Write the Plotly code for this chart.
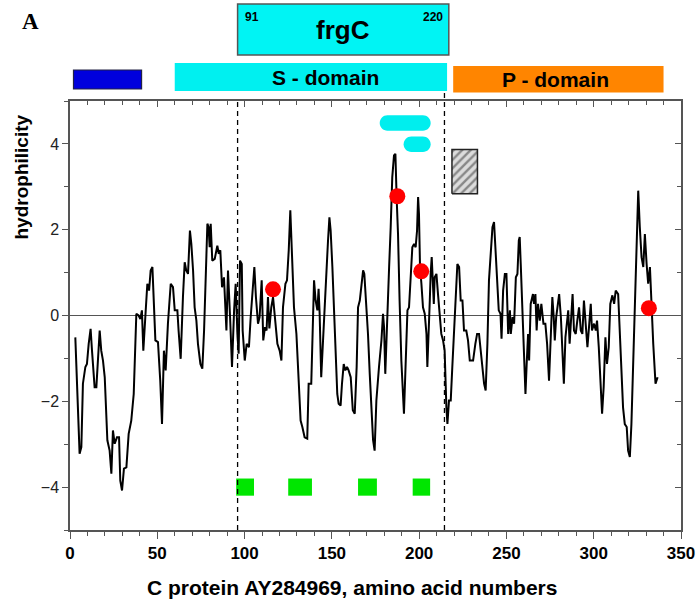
import plotly.graph_objects as go

# ---------------- data ----------------
aa = [3.05, 5.5, 6.5, 7.4, 8.8, 9.7, 10.7, 11.8, 12.6, 14.1, 15.1, 16.0, 17.0, 17.9, 18.9, 19.9,
      21.4, 22.7, 23.7, 24.6, 25.6, 26.9, 28.1, 28.8, 29.8, 30.9, 32.3, 33.6, 35.1, 36.5, 37.6,
      38.0, 39.3, 40.3, 41.2, 42.0, 43.2, 43.7, 44.3, 45.3, 46.2, 47.2, 47.7, 48.9, 50.4, 51.7,
      52.7, 53.8, 54.8, 56.1, 57.7,
      59.0, 60.0, 61.5, 62.2, 63.4, 64.7, 65.7, 66.6, 67.6, 68.7, 69.5, 70.5, 71.4, 72.4, 73.3,
      74.7, 75.8, 76.8, 77.7, 78.7, 79.4, 80.0, 80.6, 81.5, 82.9, 84.4, 85.2, 86.1, 87.1, 88.2,
      89.6, 90.5, 91.7, 92.8, 94.0, 94.9, 95.9, 96.6, 97.4, 98.4, 98.9, 100.1, 101.2, 102.5,
      103.5, 104.4, 105.6, 106.5, 107.7, 108.6, 109.8, 110.7, 111.7, 112.6,
      113.4, 114.2, 115.3, 116.3, 117.2, 118.8, 120.1, 121.1, 122.0, 123.4, 124.3, 125.3, 126.2,
      126.8, 128.3, 129.7, 131.0, 132.1, 133.1, 134.4, 135.9, 136.7, 138.2, 138.8, 139.8, 140.7,
      141.7, 142.4, 143.0, 143.9, 144.9, 145.9, 146.8, 147.8, 148.6, 149.3, 150.3, 151.2, 152.2,
      153.1, 153.9, 155.0, 155.8, 156.8, 157.7, 158.7, 159.6, 160.8, 162.0, 163.1, 164.2, 165.0,
      166.0, 166.9, 167.9, 168.6, 169.6, 170.7, 171.7, 172.6,
      173.6, 174.5, 175.5, 177.0, 178.4, 179.3, 179.9, 180.6, 181.8, 182.8, 183.7, 184.6, 185.6,
      186.4, 187.1, 187.9, 188.8, 189.8, 191.3, 192.3, 193.3, 194.2, 195.2, 196.1, 197.1, 198.0,
      198.8, 199.4, 199.9, 200.5, 201.3, 202.2, 203.2, 204.2, 204.7, 205.5, 206.1, 206.6, 207.2,
      207.8, 208.4, 208.9, 209.9, 210.8, 211.8, 212.7, 213.7, 214.6, 215.6, 216.2, 217.1, 218.1,
      219.0, 220.0, 220.9, 221.9, 222.9, 223.8, 224.8, 225.7, 227.0, 228.0, 229.0, 230.9,
      232.2, 233.2, 234.3, 235.6, 237.2, 238.1, 239.1, 240.0, 241.0, 242.0, 242.9, 243.9, 244.8,
      245.6, 246.6, 247.2, 248.1, 249.1, 250.0, 251.0, 252.0, 252.5, 253.5, 254.4, 255.4, 256.3,
      257.1, 257.6, 258.2, 259.0, 259.9, 260.9, 261.6, 262.4, 263.0, 263.9, 265.2, 265.8, 266.6,
      267.3, 268.1, 269.1, 270.0, 271.2, 272.3, 273.3, 274.4, 275.4, 276.3, 277.1, 277.7, 278.5,
      279.2, 280.2, 281.2, 282.1, 282.9, 283.8, 284.6, 285.4,
      286.2, 287.2, 287.9, 288.7, 289.7, 290.6, 291.6, 292.6, 293.5, 294.4, 295.4, 296.4, 297.3,
      298.3, 299.0, 300.2, 301.2, 301.9, 302.9, 303.8, 304.8, 305.7, 306.7, 307.6, 308.6, 309.5,
      310.7, 311.7, 312.6, 314.0, 314.9, 315.9, 316.8, 317.8, 318.9, 319.7, 320.7, 321.6, 322.6,
      323.5, 324.5, 325.5, 326.4, 327.4, 328.4, 329.3, 330.3, 331.2, 332.2, 333.1, 334.1, 335.4,
      336.6]
hydro = [-0.51, -3.22, -3.07, -1.59, -1.2, -1.13, -0.66, -0.31, -0.82, -1.67, -1.67, -0.97, -0.35,
         -0.82, -1.05, -1.44, -2.91, -3.15, -3.69, -2.68, -2.99, -2.84, -2.84, -3.85, -4.08, -3.57,
         -3.54, -2.76, -2.45, -1.83, -0.19, 0.04, 0.0, -0.08, 0.12, -0.82, 0.0, 0.35, 0.74, 0.58,
         1.05, 1.13, 0.5, -0.58, -0.62, -1.52, -2.53, -0.82, -1.28, -0.19, 0.74,
         0.66, 0.12, 0.12, -0.35, -1.01, 0.43, 1.24, 1.05, 0.97, 1.98, 1.67, 1.05, 0.19, -0.12,
         -0.66, -1.13, -1.24, -0.35, 0.89, 2.14, 2.06, 1.59, 2.14, 1.28, 1.32, 1.63, 1.44, 1.52,
         0.66, 0.89, -0.35, 1.05, -0.04, -1.2, 0.12, 0.74, -0.43, -0.89, 1.28, 1.2, -0.35, -1.05,
         -0.66, -0.74, -0.04, 0.58, 1.13, 0.43, -0.19, -0.04, 0.82, -0.58, -0.27, -0.35,
         0.43, -0.3, 0.19, 0.43, -0.04, -0.66, -0.82, -1.05, 0.19, 0.74, 0.82, 1.52, 2.45, 1.75,
         0.19, -0.43, -1.44, -2.45, -2.6, -2.84, -2.87, -1.59, -1.59, -0.43, 0.82, 0.35, 0.12,
         0.62, 0.04, -1.44, -0.58, 0.12, 1.13, 1.75, 2.29, 1.98, 1.13, 0.04, -0.89, -1.83, -2.06,
         -2.1, -1.59, -1.13, -1.28, -1.2, -1.28, -1.44, -2.21, -2.29, -1.2, 0.19, 0.35, 0.74,
         1.05, 0.97, 0.35, -0.43, -1.36, -1.98,
         -2.9, -3.15, -1.98, -1.2, -0.58, 0.04, -0.27, -1.36, 0.19, 1.13, 2.06, 3.22, 3.73, 3.77,
         2.76, 1.9, 0.35, -1.05, -2.29, -1.13, 0.12, 0.19, 0.82, 1.59, 1.67, 1.59, 1.98, 2.76,
         2.37, 1.13, 0.74, 0.19, 0.04, -0.43, -1.2, 0.04, 0.35, 0.97, 1.36, 0.82, 0.27, 0.89,
         0.97, 0.5, 0.04, -0.43, -0.58, -0.82, -2.14, -2.53, -1.98, -1.98, -1.2, -0.43, 0.5, 1.2,
         1.13, 0.35, 0.35, -0.35, -0.35, -0.58, -1.05, -1.05,
         -0.66, -0.43, -0.43, -0.97, -1.59, -1.75, -0.66, 0.82, 1.36, 2.06, 2.18, 1.44, 0.82,
         0.12, 0.04, -0.54, 0.58, 0.97, 0.97, -0.43, 0.12, -0.43, -0.04, -0.19, 0.89, 0.97, 1.75,
         1.83, 1.2, 0.35, -0.51, -1.83, -1.13, -0.43, -1.05, 0.27, 0.5, 0.27, 0.5, -0.35, 0.27,
         -0.12, 0.27, -0.19, -0.19, -0.66, -1.52, -0.66, 0.43, -0.04, -0.58, -0.04, 0.19, 0.5,
         -0.04, -1.13, -1.59, -0.51, -0.19, 0.12,
         -0.66, -0.04, 0.5, -0.35, -0.43, -0.12, 0.19, -0.35, -0.43, 0.35, -0.12, -0.74, -0.27,
         0.27, -0.35, -0.19, -0.35, -0.12, -0.74, -1.59, -2.29, -1.67, -0.51, -1.13, -0.74, 0.27,
         0.47, 0.27, 0.58, 0.5, -0.35, -1.28, -2.14, -2.53, -2.6, -3.15, -3.30, -2.53, -1.13,
         0.27, 1.28, 2.91, 2.06, 1.36, 1.13, 1.9, 1.2, 0.74, 1.13, 0.12, -0.66, -1.59, -1.44]

dot_x = [116.3, 187.5, 201.2, 331.6]
dot_y = [0.61, 2.78, 1.03, 0.17]

green_starts = [95.2, 125.0, 165.0, 196.3]
green_ends = [105.4, 138.6, 175.8, 206.3]
green_level = -4.0

cyan_starts = [177.4, 191.1]
cyan_ends = [206.6, 206.6]
cyan_levels = [4.485, 3.99]

hatch_x = [218.8, 233.4]
hatch_y = [2.84, 3.87]

boundary_lines = [96.0, 214.5]

frgC_range = [96.0, 217.0]
blue_range = [2.0, 41.0]
s_domain = [60.0, 216.0]
p_domain = [219.5, 340.0]

x_ticks = [0, 50, 100, 150, 200, 250, 300, 350]
y_ticks = [-4, -2, 0, 2, 4]
X_RANGE = [0, 350]
Y_RANGE = [-5, 5]

# ---------------- geometry helpers ----------------
W, H = 699, 604
ML, MR, MT, MB = 70, 18, 101, 74
PW = W - ML - MR
PH = H - MT - MB


def xp(v):
    return (v - X_RANGE[0]) / (X_RANGE[1] - X_RANGE[0])


def xpx(px):
    return (px - ML) / PW


def ypx(py):
    # pixel row -> paper y
    return (H - MB - py) / PH


def stadium(x0, x1, yc, h):
    px_per_x = PW / (X_RANGE[1] - X_RANGE[0])
    px_per_y = PH / (Y_RANGE[1] - Y_RANGE[0])
    rx = h * px_per_y / px_per_x
    k = 0.5523
    y0, y1 = yc - h, yc + h
    return (f"M {x0+rx},{y0} L {x1-rx},{y0} "
            f"C {x1-rx+k*rx},{y0} {x1},{yc-k*h} {x1},{yc} "
            f"C {x1},{yc+k*h} {x1-rx+k*rx},{y1} {x1-rx},{y1} "
            f"L {x0+rx},{y1} "
            f"C {x0+rx-k*rx},{y1} {x0},{yc+k*h} {x0},{yc} "
            f"C {x0},{yc-k*h} {x0+rx-k*rx},{y0} {x0+rx},{y0} Z")


fig = go.Figure()

# hatched box
fig.add_trace(go.Scatter(
    x=[hatch_x[0], hatch_x[1], hatch_x[1], hatch_x[0], hatch_x[0]],
    y=[hatch_y[0], hatch_y[0], hatch_y[1], hatch_y[1], hatch_y[0]],
    mode="lines", fill="toself", fillcolor="#dcdcdc",
    fillpattern=dict(shape="/", bgcolor="#dcdcdc", fgcolor="#333333", size=6, solidity=0.4),
    line=dict(color="#222222", width=1.5), hoverinfo="skip", showlegend=False))

# hydrophilicity curve
fig.add_trace(go.Scatter(x=aa, y=hydro, mode="lines",
                         line=dict(color="black", width=2), showlegend=False))

# red dots
fig.add_trace(go.Scatter(x=dot_x, y=dot_y, mode="markers",
                         marker=dict(color="#ff0000", size=16, line=dict(width=0)),
                         showlegend=False))

# dummy trace for mirrored (inside-tick) axes
fig.add_trace(go.Scatter(x=[], y=[], xaxis="x2", yaxis="y2", showlegend=False, hoverinfo="skip"))

shapes = []
# green squares
for s, e in zip(green_starts, green_ends):
    shapes.append(dict(type="rect", xref="x", yref="y", x0=s, x1=e,
                       y0=green_level - 0.2, y1=green_level + 0.2,
                       fillcolor="#00e600", line=dict(width=0), layer="above"))
# cyan rounded bars
for s, e, lv in zip(cyan_starts, cyan_ends, cyan_levels):
    shapes.append(dict(type="path", xref="x", yref="y", path=stadium(s, e, lv, 0.18),
                       fillcolor="#00eeee", line=dict(width=0), layer="above"))
# dashed boundaries
shapes.append(dict(type="line", xref="paper", yref="paper", x0=xp(boundary_lines[0]),
                   x1=xp(boundary_lines[0]), y0=0, y1=1,
                   line=dict(color="black", width=1.3, dash="5px,4px")))
shapes.append(dict(type="line", xref="paper", yref="paper", x0=xp(boundary_lines[1]),
                   x1=xp(boundary_lines[1]), y0=0, y1=ypx(86),
                   line=dict(color="black", width=1.3, dash="5px,4px")))
# top boxes
shapes.append(dict(type="rect", xref="paper", yref="paper",
                   x0=xp(frgC_range[0]), x1=xp(frgC_range[1]), y0=ypx(55), y1=ypx(4),
                   fillcolor="#00f4f4", line=dict(color="#555555", width=1.5)))
shapes.append(dict(type="rect", xref="paper", yref="paper",
                   x0=xp(blue_range[0]), x1=xp(blue_range[1]), y0=ypx(89), y1=ypx(70),
                   fillcolor="#0000dd", line=dict(color="#222244", width=1.2)))
shapes.append(dict(type="rect", xref="paper", yref="paper",
                   x0=xp(s_domain[0]), x1=xp(s_domain[1]), y0=ypx(91), y1=ypx(63),
                   fillcolor="#00f0f0", line=dict(width=0)))
shapes.append(dict(type="rect", xref="paper", yref="paper",
                   x0=xp(p_domain[0]), x1=xp(p_domain[1]), y0=ypx(92.5), y1=ypx(66),
                   fillcolor="#ff8500", line=dict(width=0)))

ann = [
    dict(text="<b>frgC</b>", x=xp(sum(frgC_range) / 2), y=ypx(30), font=dict(size=26, family="Arial", color="black")),
    dict(text="<b>91</b>", x=xpx(251.5), y=ypx(17), font=dict(size=12, family="Arial", color="black")),
    dict(text="<b>220</b>", x=xpx(433), y=ypx(17), font=dict(size=12, family="Arial", color="black")),
    dict(text="<b>S - domain</b>", x=xpx(325.6), y=ypx(77.5), font=dict(size=21, family="Arial", color="black")),
    dict(text="<b>P - domain</b>", x=xpx(555.5), y=ypx(79.5), font=dict(size=21, family="Arial", color="black")),
    dict(text="<b>A</b>", x=xpx(30), y=ypx(22), font=dict(size=23, family="Liberation Serif", color="black")),
    dict(text="<b>C protein AY284969, amino acid numbers</b>", x=xpx(352), y=ypx(587),
         font=dict(size=21, family="Arial", color="black")),
    dict(text="<b>hydrophilicity</b>", x=xpx(21), y=ypx(177.5), textangle=-90,
         font=dict(size=19, family="Arial", color="black")),
]
for a in ann:
    a.update(xref="paper", yref="paper", showarrow=False, xanchor="center", yanchor="middle")

axis_col = "#555555"
fig.update_layout(
    width=W, height=H, autosize=False,
    margin=dict(l=ML, r=MR, t=MT, b=MB, pad=0, autoexpand=False),
    paper_bgcolor="white", plot_bgcolor="white",
    shapes=shapes, annotations=ann, showlegend=False,
    xaxis=dict(range=X_RANGE, tickvals=x_ticks, ticks="outside", ticklen=7, tickwidth=1.2,
               tickcolor=axis_col, showline=True, linecolor=axis_col, linewidth=1.5,
               showgrid=False, zeroline=False, automargin=False,
               minor=dict(dtick=10, ticks="outside", ticklen=4, tickcolor=axis_col, showgrid=False),
               tickfont=dict(family="Arial", size=17, color="black", weight="bold")),
    yaxis=dict(range=Y_RANGE, tickvals=y_ticks, ticks="outside", ticklen=6, tickwidth=1.2,
               tickcolor=axis_col, showline=True, linecolor=axis_col, linewidth=1.5,
               showgrid=False, zeroline=True, zerolinecolor="#555555", zerolinewidth=1.3,
               automargin=False,
               minor=dict(dtick=1, ticks="outside", ticklen=4, tickcolor=axis_col, showgrid=False),
               tickfont=dict(family="Arial", size=16, color="#222222")),
    xaxis2=dict(range=X_RANGE, overlaying="x", side="top", tickvals=x_ticks, ticks="inside",
                ticklen=6, tickcolor=axis_col, showline=True, linecolor=axis_col, linewidth=1.5,
                showticklabels=False, showgrid=False, zeroline=False, automargin=False,
                minor=dict(dtick=10, ticks="inside", ticklen=4, tickcolor=axis_col, showgrid=False)),
    yaxis2=dict(range=Y_RANGE, overlaying="y", side="right", tickvals=y_ticks, ticks="inside",
                ticklen=6, tickcolor=axis_col, showline=True, linecolor=axis_col, linewidth=1.5,
                showticklabels=False, showgrid=False, zeroline=False, automargin=False,
                minor=dict(dtick=1, ticks="inside", ticklen=4, tickcolor=axis_col, showgrid=False)),
)

fig.write_html("out.html")
